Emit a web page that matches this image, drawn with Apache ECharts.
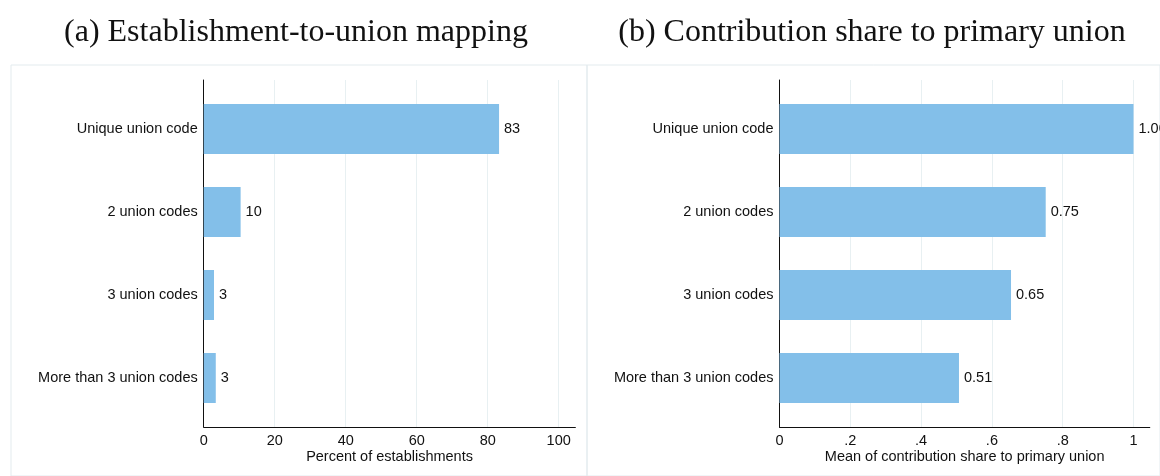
<!DOCTYPE html>
<html>
<head>
<meta charset="utf-8">
<script src="https://cdn.jsdelivr.net/npm/echarts@6/dist/echarts.min.js"></script>
<style>html,body{margin:0;padding:0;background:#fff}#c{width:1160px;height:476px}</style>
</head>
<body>
<div id="c"></div>
<script>
const categories = ['Unique union code', '2 union codes', '3 union codes', 'More than 3 union codes'];
const pctEstablishments = [83.2, 10.4, 2.9, 3.4];
const meanShare = [1.00, 0.752, 0.654, 0.507];
const titleA = '(a) Establishment-to-union mapping';
const titleB = '(b) Contribution share to primary union';
const xNameA = 'Percent of establishments';
const xNameB = 'Mean of contribution share to primary union';

const BAR = '#83bfe9';
const GRIDC = '#e8f0f2';
const FRAME = '#e3ebee';
const SANS = '"Liberation Sans", Arial, sans-serif';
const SERIF = '"Liberation Serif", "Times New Roman", serif';
const FS = 14.5;

const chart = echarts.init(document.getElementById('c'), null, {renderer: 'canvas'});

function fmtB(v) {
  if (v === 0) return '0';
  if (Math.abs(v - 1) < 1e-9) return '1';
  return String(+v.toFixed(1)).replace(/^0/, '');
}

function panel(gi, cfg) {
  const grids = [
    {left: cfg.frameLeft, top: 65, width: cfg.frameWidth, height: 440, show: true, borderColor: FRAME, borderWidth: 1, backgroundColor: 'transparent'},
    {left: cfg.left, top: 80, width: cfg.unit * cfg.tickMax, height: 347},
    {left: cfg.left, top: 87.5, width: cfg.unit * cfg.axMax, height: 332}
  ];
  const xAxes = [
    {gridIndex: gi, type: 'value', show: false, min: 0, max: 1},
    {gridIndex: gi + 1, type: 'value', min: 0, max: cfg.tickMax, interval: cfg.interval,
      axisLine: {show: false}, axisTick: {show: false},
      axisLabel: {margin: 6, color: '#111', fontSize: FS, fontFamily: SANS, formatter: cfg.fmtTick},
      splitLine: {show: true, lineStyle: {color: GRIDC, width: 1}}},
    {gridIndex: gi + 2, type: 'value', min: 0, max: cfg.axMax, offset: 7.5,
      axisLine: {show: true, lineStyle: {color: '#111', width: 1}}, axisTick: {show: false},
      axisLabel: {show: false}, splitLine: {show: false},
      name: cfg.xName, nameLocation: 'middle', nameGap: 22,
      nameTextStyle: {color: '#111', fontSize: FS, fontFamily: SANS}}
  ];
  const yAxes = [
    {gridIndex: gi, type: 'value', show: false},
    {gridIndex: gi + 1, type: 'value', min: 0, max: 1,
      axisLine: {show: true, lineStyle: {color: '#111', width: 1}}, axisTick: {show: false},
      axisLabel: {show: false}, splitLine: {show: false}},
    {gridIndex: gi + 2, type: 'category', data: categories, inverse: true,
      axisLine: {show: false}, axisTick: {show: false},
      axisLabel: {margin: 6, color: '#111', fontSize: FS, fontFamily: SANS}}
  ];
  const series = [{
    type: 'bar', xAxisIndex: gi + 2, yAxisIndex: gi + 2, data: cfg.values,
    barWidth: 50, itemStyle: {color: BAR},
    label: {show: true, position: 'right', distance: 5, color: '#111', fontSize: FS, fontFamily: SANS,
      formatter: p => cfg.fmtVal(p.value)},
    silent: true, animation: false
  }];
  return {grids, xAxes, yAxes, series};
}

const pA = panel(0, {frameLeft: 11, frameWidth: 576, left: 203.7, unit: 3.55, tickMax: 100, axMax: 104.7,
  interval: 20, fmtTick: v => String(v), xName: xNameA, values: pctEstablishments,
  fmtVal: v => String(Math.round(v))});
const pB = panel(3, {frameLeft: 587, frameWidth: 600, left: 779.5, unit: 354, tickMax: 1, axMax: 1.046,
  interval: 0.2, fmtTick: fmtB, xName: xNameB, values: meanShare,
  fmtVal: v => v.toFixed(2)});

const option = {
  animation: false,
  backgroundColor: '#fff',
  title: [
    {text: titleA, left: 291, top: 12, textAlign: 'center',
      textStyle: {fontFamily: SERIF, fontWeight: 'normal', fontSize: 32, color: '#111'}},
    {text: titleB, left: 867, top: 12, textAlign: 'center',
      textStyle: {fontFamily: SERIF, fontWeight: 'normal', fontSize: 32, color: '#111'}}
  ],
  grid: pA.grids.concat(pB.grids),
  xAxis: pA.xAxes.concat(pB.xAxes),
  yAxis: pA.yAxes.concat(pB.yAxes),
  series: pA.series.concat(pB.series)
};
chart.setOption(option);
</script>
</body>
</html>
